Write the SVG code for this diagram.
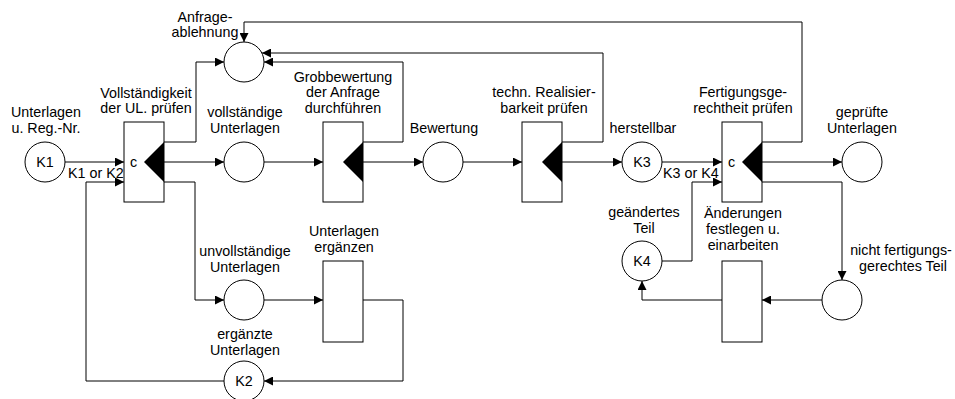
<svg xmlns="http://www.w3.org/2000/svg" width="955" height="399" viewBox="0 0 955 399">
  <style>
    .place { fill: #fff; stroke: #000; stroke-width: 1; }
    .trans { fill: #fff; stroke: #000; stroke-width: 1; }
    .tri { fill: #000; stroke: none; }
    .edge { fill: none; stroke: #000; stroke-width: 1; marker-end: url(#arrow); }
    .edge-plain { fill: none; stroke: #000; stroke-width: 1; }
    text { font-family: "Liberation Sans", Arial, sans-serif; font-size: 14.3px; fill: #000; }
    .c { text-anchor: middle; }
  </style>
  <defs>
    <marker id="arrow" markerUnits="userSpaceOnUse" markerWidth="10" markerHeight="9" refX="9" refY="4.5" orient="auto">
      <path d="M0,0 L9,4.5 L0,9 z" fill="#000"/>
    </marker>
  </defs>
  <rect width="955" height="399" fill="#fff"/>

  <!-- connectors -->
  <g id="connectors">
    <path class="edge" d="M65,162 H124"/>
    <path class="edge" d="M224,381 H86 V182 H124"/>
    <path class="edge" d="M164,142 H196 V62 H224"/>
    <path class="edge" d="M164,162 H224"/>
    <path class="edge" d="M164,182 H195 V300 H224"/>
    <path class="edge" d="M264,162 H323"/>
    <path class="edge" d="M363,162 H423"/>
    <path class="edge" d="M363,142 H403 V62 H264"/>
    <path class="edge" d="M463,162 H522"/>
    <path class="edge" d="M562,162 H622"/>
    <path class="edge" d="M562,142 H603 V53 H262"/>
    <path class="edge" d="M662,162 H722"/>
    <path class="edge" d="M662,261 H692 V182 H722"/>
    <path class="edge" d="M762,162 H842"/>
    <path class="edge" d="M762,182 H842 V280"/>
    <path class="edge" d="M762,142 H802 V22 H244 V42"/>
    <path class="edge" d="M822,300 H762"/>
    <path class="edge" d="M722,300 H642 V281"/>
    <path class="edge" d="M264,300 H323"/>
    <path class="edge" d="M363,300 H403 V381 H264"/>
  </g>

  <!-- places -->
  <g id="p-anfrageablehnung">
    <circle class="place" cx="244" cy="62" r="20"/>
    <text class="c" x="205" y="22">Anfrage-</text>
    <text class="c" x="205" y="37">ablehnung</text>
  </g>
  <g id="p-k1">
    <circle class="place" cx="45" cy="162" r="20"/>
    <text class="c" x="45" y="167">K1</text>
    <text class="c" x="46" y="117">Unterlagen</text>
    <text class="c" x="46" y="133">u. Reg.-Nr.</text>
  </g>
  <g id="p-vollstaendig">
    <circle class="place" cx="244" cy="162" r="20"/>
    <text class="c" x="245" y="117">vollständige</text>
    <text class="c" x="245" y="133">Unterlagen</text>
  </g>
  <g id="p-bewertung">
    <circle class="place" cx="443" cy="162" r="20"/>
    <text class="c" x="444" y="133">Bewertung</text>
  </g>
  <g id="p-k3">
    <circle class="place" cx="642" cy="162" r="20"/>
    <text class="c" x="642" y="167">K3</text>
    <text class="c" x="643" y="133">herstellbar</text>
  </g>
  <g id="p-geprueft">
    <circle class="place" cx="862" cy="162" r="20"/>
    <text class="c" x="862" y="117">geprüfte</text>
    <text class="c" x="862" y="133">Unterlagen</text>
  </g>
  <g id="p-unvollstaendig">
    <circle class="place" cx="244" cy="300" r="20"/>
    <text class="c" x="245" y="256">unvollständige</text>
    <text class="c" x="245" y="272">Unterlagen</text>
  </g>
  <g id="p-k2">
    <circle class="place" cx="244" cy="381" r="20"/>
    <text class="c" x="244" y="386">K2</text>
    <text class="c" x="245" y="339">ergänzte</text>
    <text class="c" x="245" y="355">Unterlagen</text>
  </g>
  <g id="p-k4">
    <circle class="place" cx="642" cy="261" r="20"/>
    <text class="c" x="642" y="266">K4</text>
    <text class="c" x="644" y="217">geändertes</text>
    <text class="c" x="644" y="233">Teil</text>
  </g>
  <g id="p-nicht">
    <circle class="place" cx="842" cy="300" r="20"/>
    <text class="c" x="901" y="255">nicht fertigungs-</text>
    <text class="c" x="903" y="271">gerechtes Teil</text>
  </g>

  <!-- transitions -->
  <g id="t-vollstaendigkeit">
    <rect class="trans" x="124" y="122" width="40" height="80"/>
    <path class="tri" d="M164,142 L144,162 L164,182 z"/>
    <text x="130" y="167">c</text>
    <text class="c" x="146" y="98">Vollständigkeit</text>
    <text class="c" x="146" y="113">der UL. prüfen</text>
    <text x="68" y="178">K1 or K2</text>
  </g>
  <g id="t-grobbewertung">
    <rect class="trans" x="323" y="122" width="40" height="80"/>
    <path class="tri" d="M363,142 L343,162 L363,182 z"/>
    <text class="c" x="343" y="82">Grobbewertung</text>
    <text class="c" x="343" y="97">der Anfrage</text>
    <text class="c" x="343" y="113">durchführen</text>
  </g>
  <g id="t-realisierbarkeit">
    <rect class="trans" x="522" y="122" width="40" height="80"/>
    <path class="tri" d="M562,142 L542,162 L562,182 z"/>
    <text class="c" x="544" y="97">techn. Realisier-</text>
    <text class="c" x="544" y="113">barkeit prüfen</text>
  </g>
  <g id="t-fertigung">
    <rect class="trans" x="722" y="122" width="40" height="80"/>
    <path class="tri" d="M762,142 L742,162 L762,182 z"/>
    <text x="728" y="167">c</text>
    <text class="c" x="743" y="97">Fertigungsge-</text>
    <text class="c" x="743" y="113">rechtheit prüfen</text>
    <text x="663" y="178">K3 or K4</text>
  </g>
  <g id="t-ergaenzen">
    <rect class="trans" x="323" y="261" width="40" height="81"/>
    <text class="c" x="344" y="236">Unterlagen</text>
    <text class="c" x="344" y="252">ergänzen</text>
  </g>
  <g id="t-aenderungen">
    <rect class="trans" x="722" y="261" width="40" height="81"/>
    <text class="c" x="743" y="218">Änderungen</text>
    <text class="c" x="743" y="234">festlegen u.</text>
    <text class="c" x="743" y="250">einarbeiten</text>
  </g>
</svg>
